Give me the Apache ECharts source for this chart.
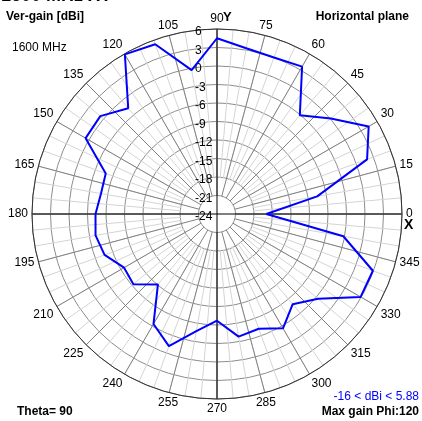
<!DOCTYPE html>
<html>
<head>
<meta charset="utf-8">
<script src="https://cdn.jsdelivr.net/npm/echarts@6/dist/echarts.min.js"></script>
<style>
  html, body { margin: 0; padding: 0; background: #fff; }
</style>
</head>
<body>
<div id="polarChart" style="width: 422px; height: 421px"></div>
<script>
// phi (deg) of each sample, 10 deg step
const phi = [0, 10, 20, 30, 40, 50, 60, 70, 80, 90, 100, 110, 120, 130, 140, 150, 160, 170,
             180, 190, 200, 210, 220, 230, 240, 250, 260, 270, 280, 290, 300, 310, 320, 330, 340, 350]
// Ver-gain [dBi]
const gain = [-16, -7.5, 1.9, 4.4, 0.1, -3.1, 3.6, 3.0, 3.3, 4.5, -0.3, 5.3, 5.88, -1.6, 0.7, 0.6, -4.8, -4.9,
              -4.3, -4.0, -4.6, -6.6, -6.3, -9.1, -3.4, -1.2, -4.7, -6.7, -3.8, -4.2, -2.6, -4.9, -2.6, 2.9, 2.9, -3.2]
const gainMin = -24, gainMax = 6, gainStep = 3
const phiStep = 15

const font = "'Liberation Sans', Arial, sans-serif"
const center = [217, 214]
const R = 185

// close the loop
let lineData = phi.map((p, i) => [gain[i], p])
lineData.push([gain[0], 360])

const hiddenRadius = { min: gainMin, max: gainMax, interval: gainStep, axisLine: { show: false }, axisTick: { show: false }, axisLabel: { show: false }, splitLine: { show: false } }

const txt = (text, x, y, opt) => ({
  type: 'text', x: x, y: y, z: 10,
  style: Object.assign({ text: text, font: '12px ' + font, fill: '#000', textVerticalAlign: 'middle' }, opt || {})
})

const myChart = echarts.init(document.getElementById('polarChart'))
const option = {
  animation: false,
  textStyle: { fontFamily: font },
  polar: [
    { center: center, radius: [36, R] },   // light spokes
    { center: center, radius: [18.5, R] }, // dark spokes
    { center: center, radius: [0, R] },    // main
    { center: center, radius: [0, R] }     // X / Y lines + radial labels
  ],
  angleAxis: [
    {
      polarIndex: 0, type: 'value', min: 0, max: 360, interval: 5, startAngle: 0, clockwise: false,
      axisLine: { show: false }, axisTick: { show: false }, axisLabel: { show: false },
      splitLine: { lineStyle: { color: '#d4d4d4', width: 1 } }
    },
    {
      polarIndex: 1, type: 'value', min: 0, max: 360, interval: phiStep, startAngle: 0, clockwise: false,
      axisLine: { show: false }, axisTick: { show: false }, axisLabel: { show: false },
      splitLine: { lineStyle: { color: '#808080', width: 1 } }
    },
    {
      polarIndex: 2, type: 'value', min: 0, max: 360, interval: phiStep, startAngle: 0, clockwise: false,
      axisLine: { lineStyle: { color: '#333', width: 1 } },
      axisTick: { show: false },
      axisLabel: {
        margin: 4, color: '#000', fontSize: 12, fontFamily: font,
        formatter: (v) => v === 360 ? '' : v
      },
      splitLine: { show: false }
    },
    {
      polarIndex: 3, type: 'value', min: 0, max: 360, interval: 90, startAngle: 90, clockwise: false,
      axisLine: { show: false }, axisTick: { show: false }, axisLabel: { show: false },
      splitLine: { lineStyle: { color: '#000', width: 1 } }
    }
  ],
  radiusAxis: [
    Object.assign({ polarIndex: 0 }, hiddenRadius),
    Object.assign({ polarIndex: 1 }, hiddenRadius),
    {
      polarIndex: 2, min: gainMin, max: gainMax, interval: gainStep,
      axisLine: { show: false }, axisTick: { show: false }, axisLabel: { show: false },
      splitLine: { lineStyle: { color: '#8c8c8c', width: 1 } }
    },
    {
      polarIndex: 3, min: gainMin, max: gainMax, interval: gainStep,
      axisLine: { show: false }, axisTick: { show: false },
      axisLabel: {
        color: '#000', fontSize: 12, fontFamily: font, margin: 2, padding: [6, 0, 0, 0],
        formatter: (v) => '{a|' + v + '}',
        rich: { a: { width: 20, align: 'left', fontSize: 12, fontFamily: font, color: '#000' } }
      },
      splitLine: { show: false }
    }
  ],
  series: [{
    name: 'Ver-gain',
    type: 'line',
    coordinateSystem: 'polar',
    polarIndex: 2,
    data: lineData,
    symbol: 'none',
    z: 5,
    lineStyle: { color: '#0000ff', width: 2 }
  }],
  graphic: [
    txt('1600 MHz XY', 1, -4, { font: 'bold 18px ' + font }),
    txt('Ver-gain [dBi]', 6, 17, { font: 'bold 12px ' + font }),
    txt('1600 MHz', 12, 48),
    txt('Horizontal plane', 409, 17, { font: 'bold 12px ' + font, textAlign: 'right' }),
    txt('Y', 223, 17, { font: 'bold 13px ' + font }),
    txt('X', 404, 225, { font: 'bold 14px ' + font }),
    txt('Theta= 90', 17, 412, { font: 'bold 12px ' + font }),
    txt('-16 < dBi < 5.88', 419, 397, { fill: '#0000ff', textAlign: 'right' }),
    txt('Max gain Phi:120', 419, 412, { font: 'bold 12px ' + font, textAlign: 'right' })
  ]
}
myChart.setOption(option)
</script>
</body>
</html>
